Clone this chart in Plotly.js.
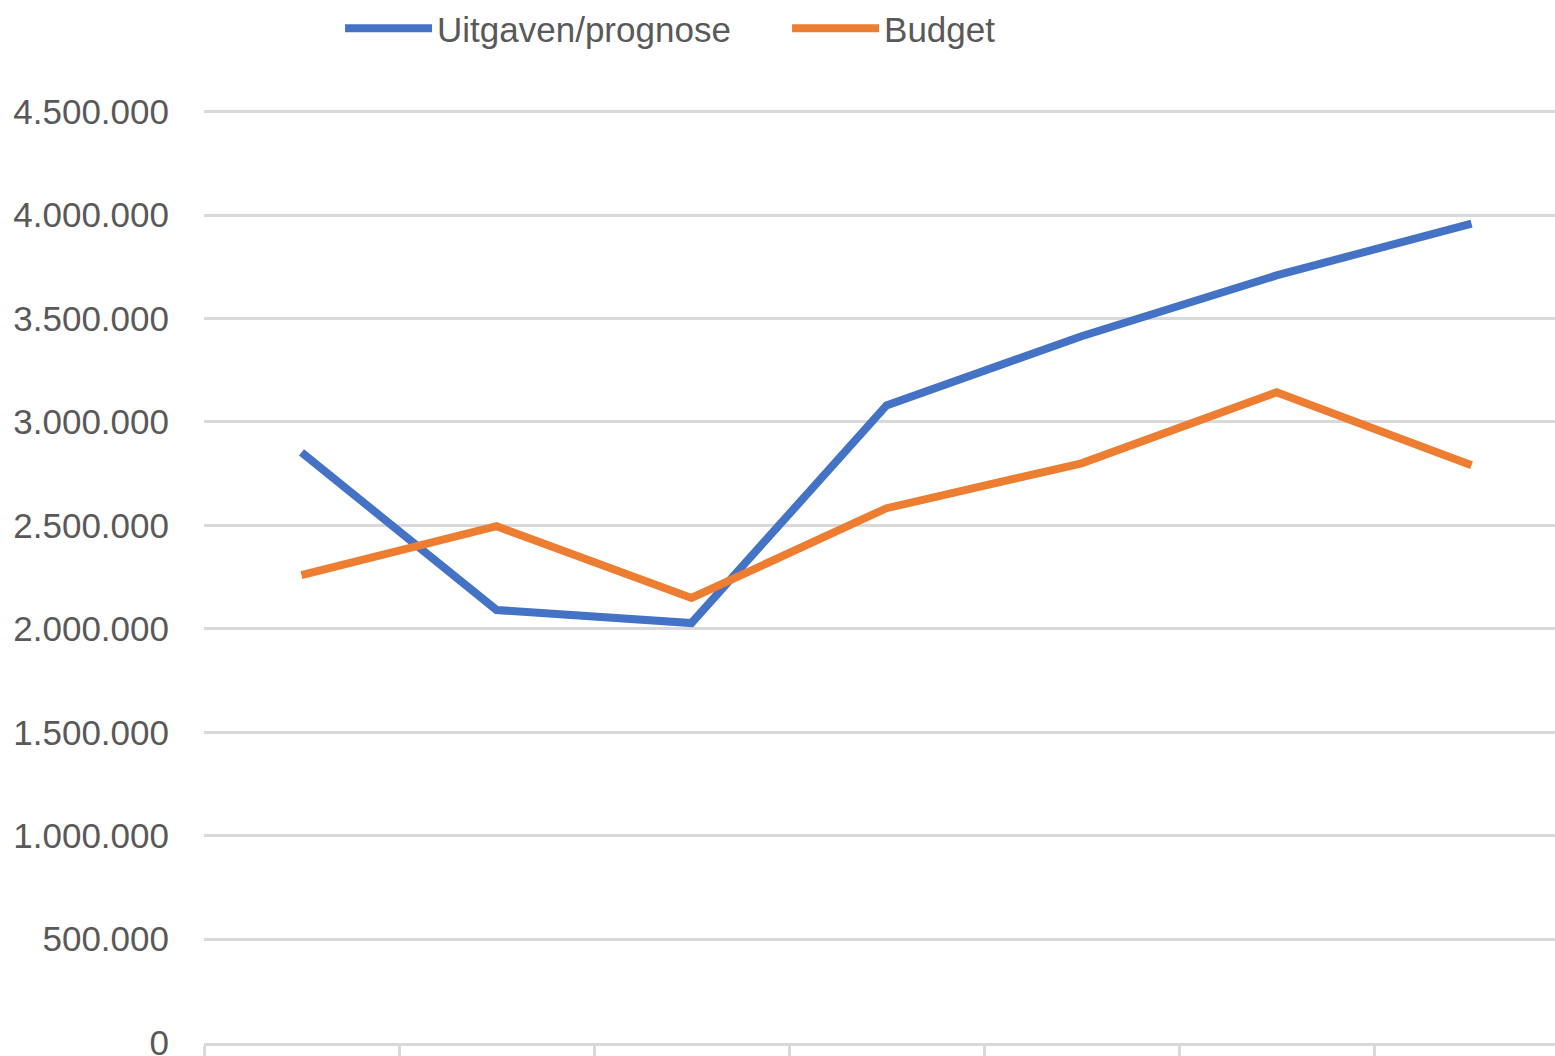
<!DOCTYPE html>
<html>
<head>
<meta charset="utf-8">
<script src="https://cdn.plot.ly/plotly-3.0.1.min.js"></script>
<style>html,body{margin:0;padding:0;overflow:hidden;background:#fff}</style>
</head>
<body>
<div id="chart" style="width:1555px;height:1056px"></div>
<script>
var categories = ["1", "2", "3", "4", "5", "6", "7"];
var uitgaven = [2853000, 2091000, 2028000, 3080000, 3414000, 3708000, 3959000];
var budget = [2260000, 2496000, 2149000, 2583000, 2800000, 3143000, 2791000];
var yTickVals = [0, 500000, 1000000, 1500000, 2000000, 2500000, 3000000, 3500000, 4000000, 4500000];
var yTickText = ["0", "500.000", "1.000.000", "1.500.000", "2.000.000", "2.500.000", "3.000.000", "3.500.000", "4.000.000", "4.500.000"];

var traces = [
  {x: categories, y: uitgaven, name: "Uitgaven/prognose", type: "scatter", mode: "lines",
   line: {color: "#4472C4", width: 8}},
  {x: categories, y: budget, name: "Budget", type: "scatter", mode: "lines",
   line: {color: "#ED7D31", width: 8}}
];

var layout = {
  width: 1555, height: 1056,
  margin: {l: 204, r: 0, t: 100, b: 13, pad: 0},
  paper_bgcolor: "#fff", plot_bgcolor: "#fff",
  font: {family: "Liberation Sans, Arial, sans-serif", size: 35, color: "#595959"},
  showlegend: true,
  legend: {orientation: "h", x: 0.1007, xanchor: "left", y: 0.973, yref: "container", yanchor: "middle",
    font: {size: 35, color: "#595959"}, itemwidth: 87, entrywidth: 345, entrywidthmode: "pixels",
    traceorder: "normal"},
  xaxis: {type: "category", range: [-0.5, 6.428], showticklabels: false, tickson: "boundaries",
    ticks: "outside", ticklen: 14, tickwidth: 3, tickcolor: "#d9d9d9",
    showline: true, linecolor: "#d9d9d9", linewidth: 3, showgrid: false, zeroline: false, fixedrange: true},
  yaxis: {range: [-2000, 4556000], tickvals: yTickVals, ticktext: yTickText,
    showgrid: true, gridcolor: "#d9d9d9", gridwidth: 3, zeroline: false, showline: false,
    ticks: "", ticklabelstandoff: 34, ticklabeloverflow: "allow", fixedrange: true}
};

Plotly.newPlot("chart", traces, layout, {displayModeBar: false, staticPlot: true});
</script>
</body>
</html>
